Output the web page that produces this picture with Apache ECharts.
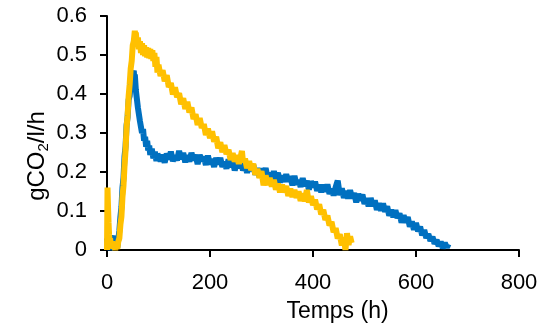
<!DOCTYPE html>
<html>
<head>
<meta charset="utf-8">
<script src="https://cdn.jsdelivr.net/npm/echarts@6/dist/echarts.min.js"></script>
<style>html,body{margin:0;padding:0;background:#fff;}#c{width:542px;height:331px;}</style>
</head>
<body>
<div id="c"></div>
<script>
const xTicks = [0, 200, 400, 600, 800];
const yTicks = [0, 0.1, 0.2, 0.3, 0.4, 0.5, 0.6];
const xTitle = 'Temps (h)';
const yTitle = '{a|gCO}{s|2}{a|/l/h}';

// [time (h), gCO2/l/h]
const blueData = [
[0,0.03],[2,0.005],[4,0.022],[6,0.0],[8,0.018],[10,0.03],[12,0.036],[14,0.018],[16,0.008],[18,0.02],[20,0.006],[22,0.028],[24,0.05],[26,0.085],[28,0.11],[30,0.16],[32,0.185],[34,0.24],[36,0.265],[38,0.32],[40,0.34],[42,0.385],[44,0.395],[46,0.43],[48,0.425],[50,0.45],[52,0.46],[53,0.435],[54,0.45],[56,0.41],[58,0.415],[60,0.365],[62,0.36],[64,0.33],[66,0.33],[68,0.3],[70,0.31],[72,0.28],[74,0.29],[76,0.265],[78,0.28],[80,0.255],[82,0.268],[84,0.244],[87,0.26],[90,0.235],[93,0.252],[96,0.228],[98,0.246],
[100,0.250],[104,0.228],[108,0.244],[112,0.224],[116,0.247],[120,0.233],[124,0.252],[128,0.228],[132,0.242],[136,0.230],[140,0.254],[144,0.233],[148,0.249],[152,0.225],[156,0.243],[160,0.227],[164,0.249],[168,0.230],[172,0.244],[176,0.220],[180,0.244],[184,0.228],[188,0.239],[192,0.218],[196,0.242],[200,0.220],[204,0.233],[208,0.213],[212,0.236],[216,0.220],[220,0.236],[224,0.213],[228,0.226],[232,0.209],[236,0.232],[240,0.213],[244,0.228],[248,0.204],[252,0.225],[256,0.210],[260,0.228],[264,0.204],[268,0.217],[272,0.198],[276,0.219],[280,0.203],[284,0.218],[288,0.193],[292,0.210],[296,0.188],[300,0.209],[304,0.192],[308,0.210],[312,0.185],[316,0.198],[320,0.180],[324,0.202],[328,0.182],[332,0.198],[336,0.173],[340,0.191],[344,0.175],[348,0.194],[352,0.176],[356,0.189],[360,0.166],[364,0.190],[368,0.168],[372,0.179],[376,0.162],[380,0.184],[384,0.164],[388,0.177],[392,0.155],[396,0.176],[400,0.161],[404,0.175],[408,0.152],[412,0.167],[416,0.148],[420,0.167],[424,0.150],[428,0.168],[432,0.144],[436,0.157],[440,0.140],[444,0.161],[448,0.178],[452,0.141],[456,0.158],[460,0.134],[464,0.151],[468,0.132],[472,0.153],[476,0.133],[480,0.146],[484,0.122],[488,0.144],[492,0.127],[496,0.142],[500,0.118],[504,0.133],[508,0.112],[512,0.133],[516,0.113],[520,0.127],[524,0.103],[528,0.120],[532,0.101],[536,0.119],[540,0.098],[544,0.112],[548,0.088],[552,0.103],[556,0.084],[560,0.102],[564,0.082],[568,0.094],[572,0.070],[576,0.089],[580,0.071],[584,0.084],[588,0.060],[592,0.073],[596,0.052],[600,0.069],[604,0.048],[608,0.060],[612,0.038],[616,0.051],[620,0.031],[624,0.041],[628,0.023],[632,0.034],[636,0.016],[640,0.026],[644,0.010],[648,0.021],[652,0.005],[656,0.018],[660,0.006],[663,0.015]
];

const yellowData = [
[0,0.0],[1,0.16],[2,0.11],[3,0.07],[4,0.04],[5,0.02],[6,0.03],[8,0.006],[10,0.022],[12,0.004],[14,0.016],[16,0.0],[18,0.014],[20,0.003],[22,0.022],[24,0.03],[26,0.065],[28,0.085],[30,0.135],[32,0.165],[34,0.215],[36,0.255],[38,0.315],[40,0.345],[42,0.395],[44,0.425],[46,0.465],[48,0.485],[50,0.525],[52,0.535],[54,0.562],[55,0.55],[56,0.558],[58,0.525],[60,0.545],[62,0.515],[64,0.535],[66,0.505],[68,0.53],[70,0.5],[72,0.525],[74,0.497],[76,0.52],[78,0.494],[80,0.518],[82,0.492],[84,0.515],[86,0.49],[88,0.512],[90,0.485],[92,0.505],[94,0.47],[96,0.495],[98,0.455],[100,0.475],
[104,0.446],[108,0.461],[112,0.433],[116,0.448],[120,0.418],[124,0.428],[128,0.399],[132,0.417],[136,0.392],[140,0.402],[144,0.374],[148,0.389],[152,0.362],[156,0.380],[160,0.353],[164,0.365],[168,0.336],[172,0.348],[176,0.321],[180,0.338],[184,0.313],[188,0.323],[192,0.295],[196,0.311],[200,0.287],[204,0.304],[208,0.278],[212,0.290],[216,0.261],[220,0.276],[224,0.251],[228,0.269],[232,0.246],[236,0.257],[240,0.231],[244,0.248],[248,0.227],[252,0.243],[256,0.221],[260,0.242],[262,0.254],[264,0.226],[268,0.234],[272,0.210],[276,0.228],[280,0.205],[284,0.221],[288,0.193],[292,0.208],[296,0.185],[300,0.202],[304,0.166],[308,0.191],[312,0.167],[316,0.185],[320,0.163],[324,0.180],[328,0.155],[332,0.170],[336,0.148],[340,0.167],[344,0.148],[348,0.164],[352,0.139],[356,0.157],[360,0.136],[364,0.154],[368,0.134],[372,0.150],[376,0.126],[380,0.145],[384,0.125],[388,0.154],[392,0.122],[396,0.138],[400,0.115],[404,0.129],[408,0.104],[412,0.117],[416,0.091],[420,0.103],[424,0.077],[428,0.088],[432,0.063],[436,0.072],[440,0.046],[444,0.056],[448,0.030],[452,0.040],[456,0.012],[460,0.032],[463,0.0],[466,0.043],[469,0.013],[472,0.035],[475,0.018]
];

const FONT = 'Liberation Sans, Arial, sans-serif';
const chart = echarts.init(document.getElementById('c'), null, {renderer: 'canvas'});
chart.setOption({
  animation: false,
  backgroundColor: '#fff',
  grid: {left: 107, right: 23, top: 16, bottom: 81, containLabel: false, outerBoundsMode: 'none'},
  xAxis: {
    type: 'value',
    min: xTicks[0], max: xTicks[xTicks.length - 1], interval: 200,
    name: xTitle, nameLocation: 'middle', nameGap: 50,
    nameTextStyle: {fontFamily: FONT, fontSize: 23, color: '#000', padding: [0, 0, 0, 49]},
    axisLine: {show: true, onZero: false, lineStyle: {color: '#000', width: 2}},
    axisTick: {show: true, inside: false, length: 7, lineStyle: {color: '#000', width: 2}},
    axisLabel: {fontFamily: FONT, fontSize: 22, color: '#000', margin: 22},
    splitLine: {show: false}
  },
  yAxis: {
    type: 'value',
    min: yTicks[0], max: yTicks[yTicks.length - 1], interval: 0.1,
    axisLine: {show: true, lineStyle: {color: '#000', width: 2}},
    axisTick: {show: true, inside: false, length: 7, lineStyle: {color: '#000', width: 2}},
    axisLabel: {fontFamily: FONT, fontSize: 22, color: '#000', margin: 20},
    splitLine: {show: false}
  },
  graphic: [{
    type: 'text', x: 37, y: 156, rotation: Math.PI / 2,
    style: {
      text: yTitle, align: 'center', verticalAlign: 'middle', fill: '#000',
      rich: {
        a: {fontFamily: FONT, fontSize: 24, fill: '#000'},
        s: {fontFamily: FONT, fontSize: 15, fill: '#000', padding: [13, 0, 0, 0]}
      }
    }
  }],
  series: [
    {type: 'line', data: blueData, showSymbol: false, symbol: 'none', lineStyle: {color: '#0070C0', width: 6}, itemStyle: {color: '#0070C0'}, z: 2},
    {type: 'line', data: yellowData, showSymbol: false, symbol: 'none', lineStyle: {color: '#FFC000', width: 6}, itemStyle: {color: '#FFC000'}, z: 3}
  ]
});
</script>
</body>
</html>
